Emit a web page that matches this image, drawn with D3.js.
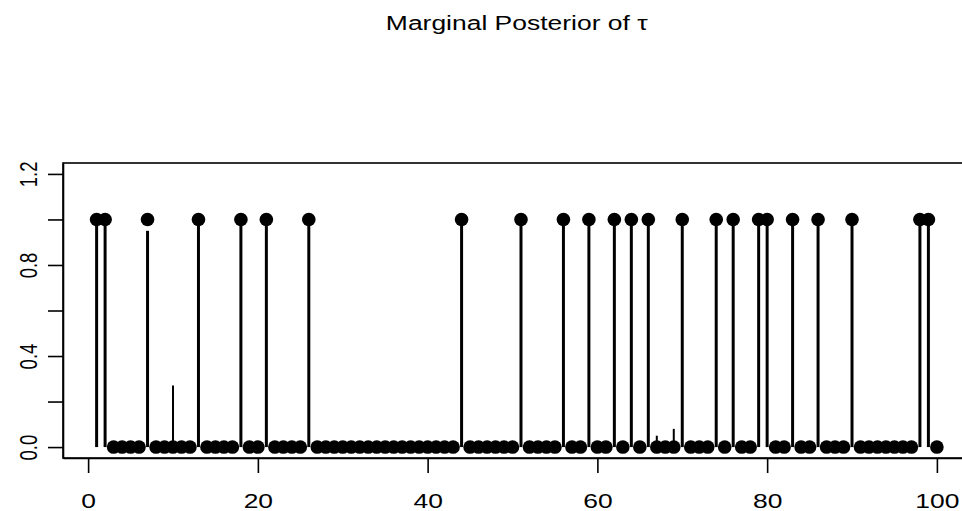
<!DOCTYPE html>
<html>
<head>
<meta charset="utf-8">
<script src="https://cdn.jsdelivr.net/npm/d3@7"></script>
<style>
  body { margin: 0; background: #fff; }
  text { font-family: "Liberation Sans", Arial, sans-serif; fill: #000; }
</style>
</head>
<body>
<div id="chart"></div>
<script>
// index 1..100
var idx = [1,2,3,4,5,6,7,8,9,10,11,12,13,14,15,16,17,18,19,20,
           21,22,23,24,25,26,27,28,29,30,31,32,33,34,35,36,37,38,39,40,
           41,42,43,44,45,46,47,48,49,50,51,52,53,54,55,56,57,58,59,60,
           61,62,63,64,65,66,67,68,69,70,71,72,73,74,75,76,77,78,79,80,
           81,82,83,84,85,86,87,88,89,90,91,92,93,94,95,96,97,98,99,100];

// true tau (dots)
var tau = [1,1,0,0,0,0,1,0,0,0, 0,0,1,0,0,0,0,1,0,0,
           1,0,0,0,0,1,0,0,0,0, 0,0,0,0,0,0,0,0,0,0,
           0,0,0,1,0,0,0,0,0,0, 1,0,0,0,0,1,0,0,1,0,
           0,1,0,1,0,1,0,0,0,1, 0,0,0,1,0,1,0,0,1,1,
           0,0,1,0,0,1,0,0,0,1, 0,0,0,0,0,0,0,1,1,0];

// marginal posterior probability (vertical lines)
var post = [1,1,0,0,0,0,0.95,0,0,0.27, 0,0,1,0,0,0,0,1,0,0,
            1,0,0,0,0,1,0,0,0,0, 0,0,0,0,0,0,0,0,0,0,
            0,0,0,1,0,0,0,0,0,0, 1,0,0,0,0,1,0,0,1,0,
            0,1,0,1,0,1,0.05,0,0.08,1, 0,0,0,1,0,1,0,0,1,1,
            0,0,1,0,0,1,0,0,0,1, 0,0,0,0,0,0,0,1,1,0];

var xTicks = [0, 20, 40, 60, 80, 100];
var yTicks = [0, 0.2, 0.4, 0.6, 0.8, 1.0, 1.2];
var yLabels = [0, 0.4, 0.8, 1.2];

var width = 962, height = 511;
var mLeft = 63, mRight = 970.5, mTop = 163, mBottom = 458;

// the scanned figure is a bit wider than tall, stretch texts to match
var stretch = 1.26;

var svg = d3.select('#chart').append('svg')
  .attr('width', width)
  .attr('height', height);

var x = d3.scaleLinear().domain([-2.96, 103.96]).range([mLeft, mRight]);
var y = d3.scaleLinear().domain([-0.048, 1.248]).range([mBottom, mTop]);

// title
svg.append('text')
  .attr('transform', 'translate(' + ((mLeft + mRight) / 2) + ',30) scale(' + stretch + ',1)')
  .attr('text-anchor', 'middle')
  .style('font-size', '21px')
  .text('Marginal Posterior of τ');

// box
svg.append('rect')
  .attr('x', mLeft).attr('y', mTop)
  .attr('width', mRight - mLeft).attr('height', mBottom - mTop)
  .attr('fill', 'none').attr('stroke', '#000').attr('stroke-width', 1.6);

// x axis
var xAxis = svg.append('g').attr('transform', 'translate(0,' + mBottom + ')')
  .call(d3.axisBottom(x).tickValues(xTicks).tickSize(15).tickSizeOuter(0).tickPadding(20)
        .tickFormat(d3.format('d')));
xAxis.select('.domain').attr('stroke-width', 1.6);
xAxis.selectAll('.tick line').attr('stroke-width', 1.6);
xAxis.selectAll('.tick text')
  .style('font-size', '21px')
  .attr('font-family', null)
  .attr('transform', 'scale(' + stretch + ',1)');

// y axis
var yAxis = svg.append('g').attr('transform', 'translate(' + mLeft + ',0)')
  .call(d3.axisLeft(y).tickValues(yTicks).tickSize(15).tickSizeOuter(0)
        .tickFormat(function(d) { return yLabels.indexOf(d) >= 0 ? d3.format('.1f')(d) : ''; }));
yAxis.select('.domain').attr('stroke-width', 1.6);
yAxis.selectAll('.tick line').attr('stroke-width', 1.6);
yAxis.selectAll('.tick text')
  .style('font-size', '18.5px')
  .attr('font-family', null)
  .attr('x', null).attr('dy', null)
  .attr('text-anchor', 'middle')
  .attr('transform', 'translate(-26,0) rotate(-90) scale(1,' + stretch + ')');

// vertical lines (posterior)
svg.append('g').selectAll('line')
  .data(idx.filter(function(d, i) { return post[i] > 0; }))
  .enter().append('line')
  .attr('x1', function(d) { return x(d); })
  .attr('x2', function(d) { return x(d); })
  .attr('y1', y(0))
  .attr('y2', function(d) { return y(post[d - 1]); })
  .attr('stroke', '#000')
  .attr('stroke-width', function(d) { return post[d - 1] < 0.5 ? 2 : 3; });

// dots (true tau)
svg.append('g').selectAll('circle')
  .data(idx)
  .enter().append('circle')
  .attr('cx', function(d) { return x(d); })
  .attr('cy', function(d) { return y(tau[d - 1]); })
  .attr('r', 6.8)
  .attr('fill', '#000');
</script>
</body>
</html>
